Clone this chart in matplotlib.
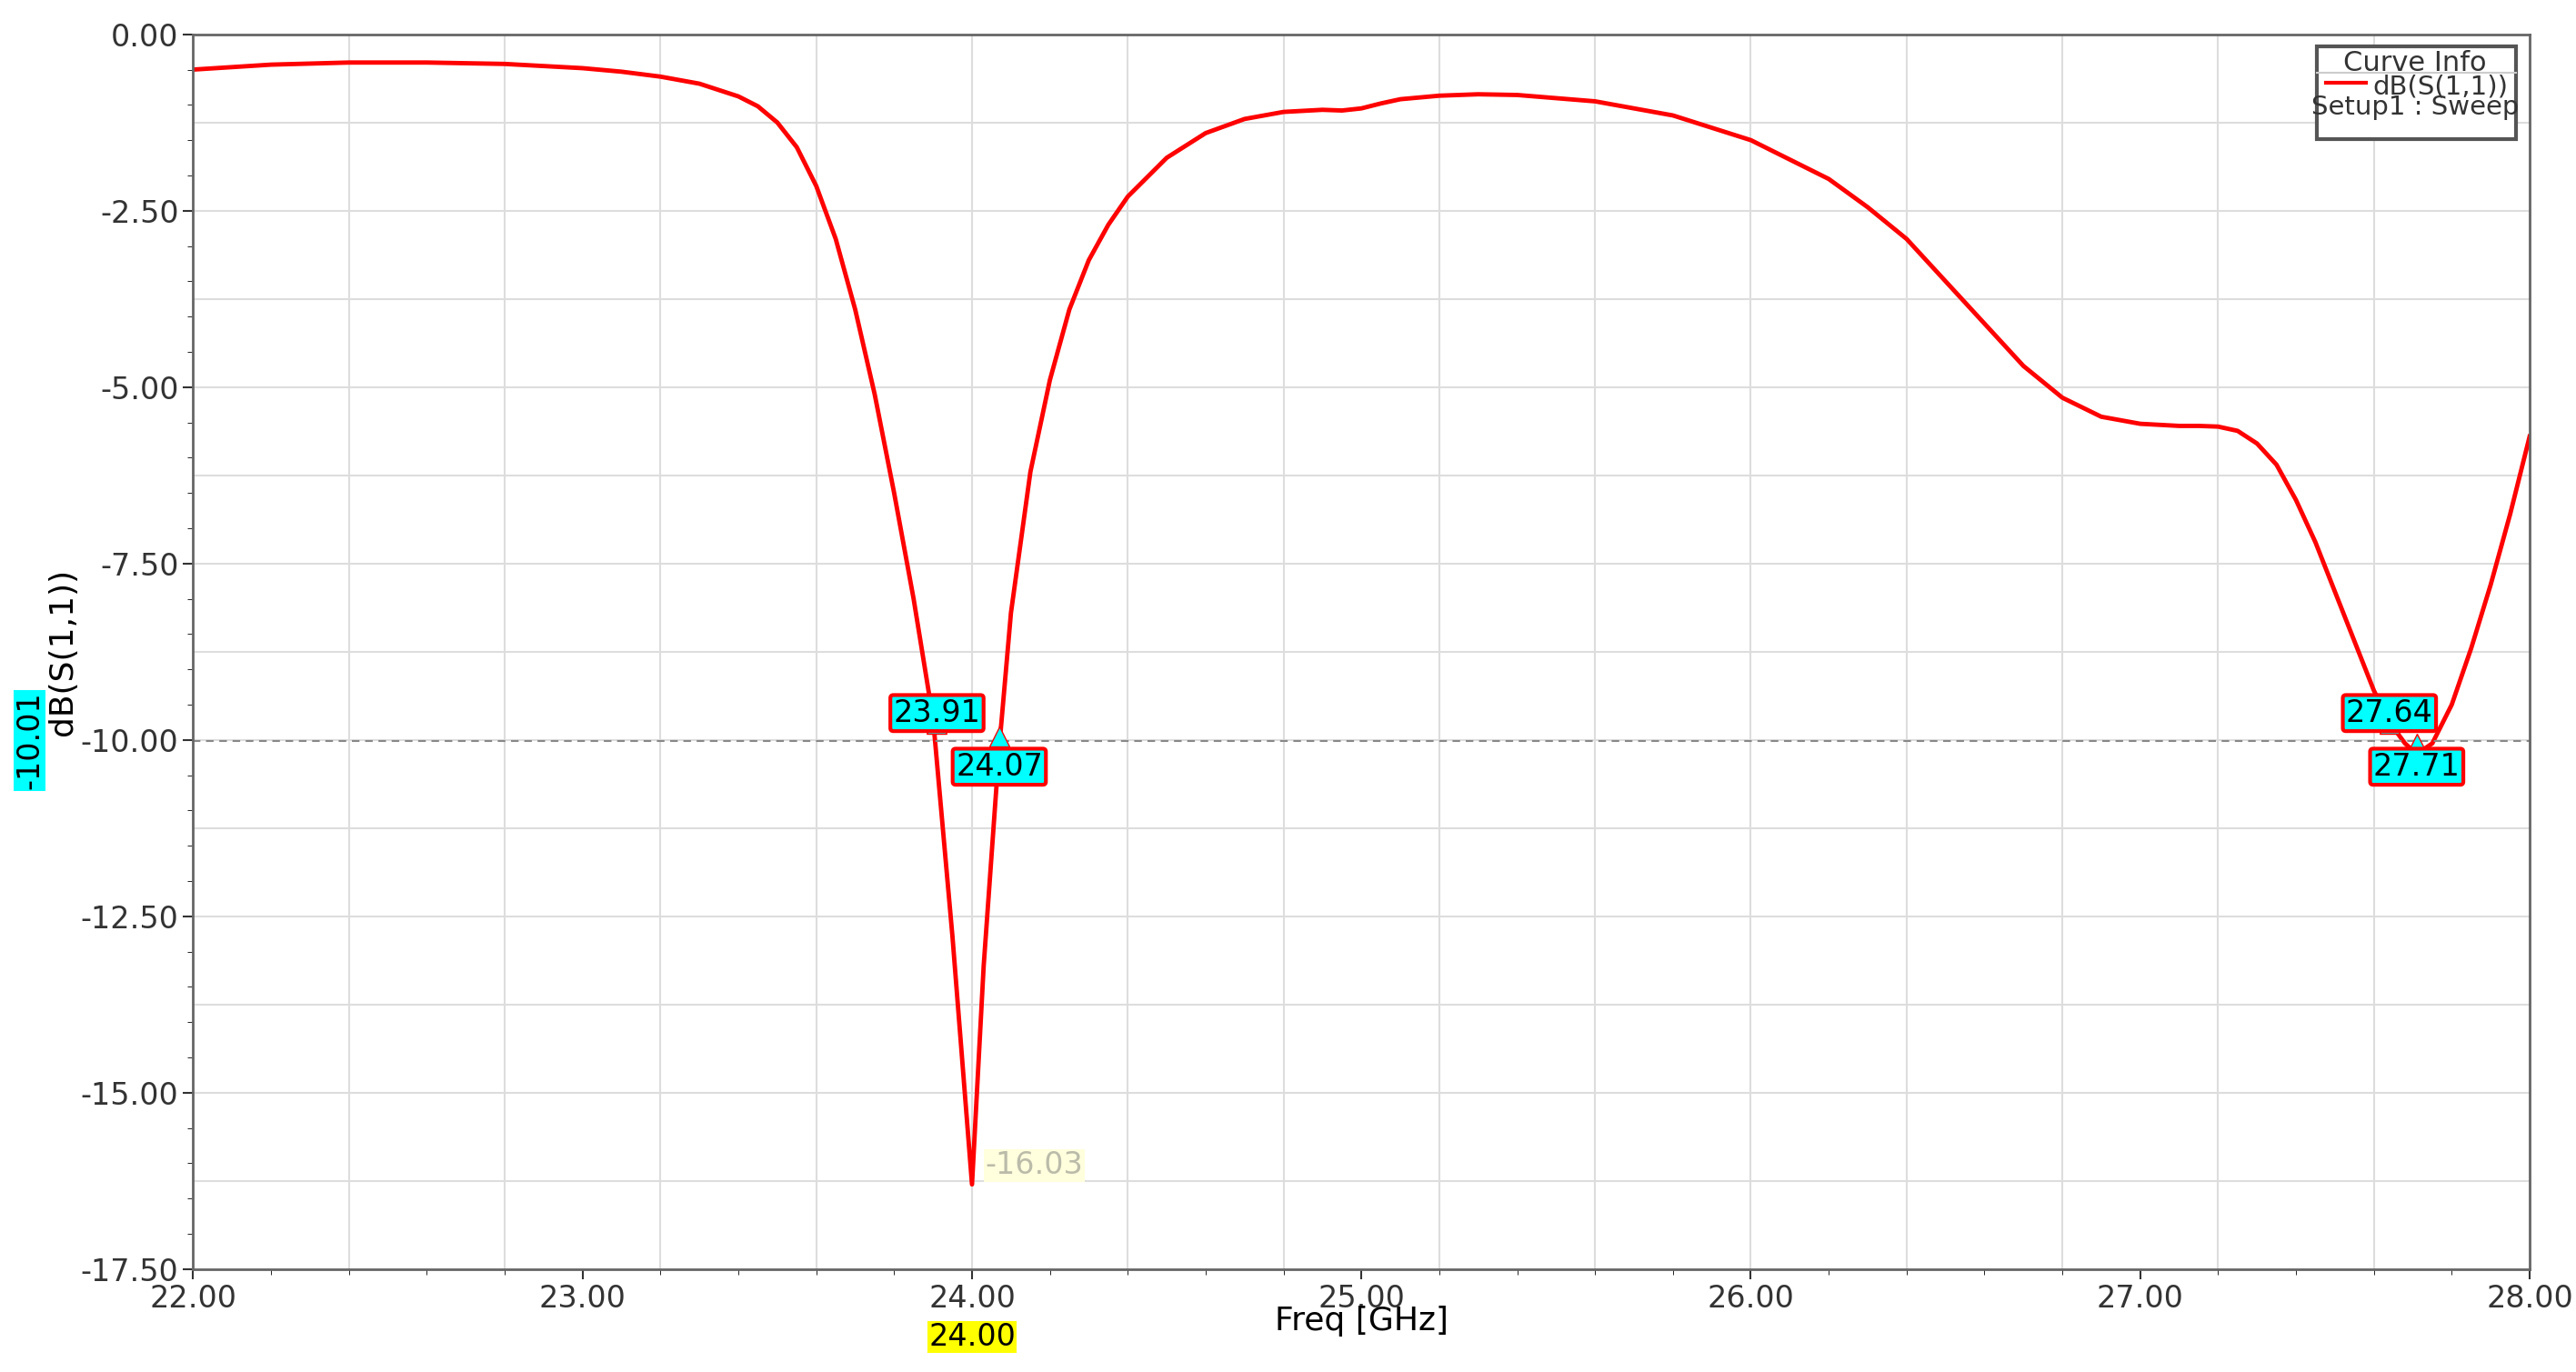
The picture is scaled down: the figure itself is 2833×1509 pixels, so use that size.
import matplotlib.pyplot as plt
from matplotlib.patches import Rectangle
from matplotlib.ticker import MultipleLocator

freq = [22.0, 22.2, 22.4, 22.6, 22.8, 23.0, 23.1, 23.2, 23.3, 23.4, 23.45, 23.5, 23.55, 23.6,
        23.65, 23.7, 23.75, 23.8, 23.85, 23.9, 23.95, 24.0, 24.03, 24.07, 24.1, 24.15, 24.2,
        24.25, 24.3, 24.35, 24.4, 24.5, 24.6, 24.7, 24.8, 24.9, 24.95, 25.0, 25.05, 25.1, 25.2,
        25.3, 25.4, 25.6, 25.8, 26.0, 26.2, 26.3, 26.4, 26.5, 26.6, 26.7, 26.8, 26.9, 27.0,
        27.1, 27.15, 27.2, 27.25, 27.3, 27.35, 27.4, 27.45, 27.5, 27.55, 27.6, 27.64, 27.68,
        27.71, 27.75, 27.8, 27.85, 27.9, 27.95, 28.0]
s11 = [-0.5, -0.43, -0.4, -0.4, -0.42, -0.48, -0.53, -0.6, -0.7, -0.88, -1.02, -1.25, -1.6,
       -2.15, -2.9, -3.9, -5.1, -6.5, -8.0, -9.7, -12.8, -16.3, -13.2, -10.1, -8.2, -6.2,
       -4.9, -3.9, -3.2, -2.7, -2.3, -1.75, -1.4, -1.2, -1.1, -1.07, -1.08, -1.05, -0.98,
       -0.92, -0.87, -0.85, -0.86, -0.95, -1.15, -1.5, -2.05, -2.45, -2.9, -3.5, -4.1, -4.7,
       -5.15, -5.42, -5.52, -5.55, -5.55, -5.56, -5.62, -5.8, -6.1, -6.6, -7.2, -7.9, -8.6,
       -9.3, -9.75, -10.05, -10.2, -10.05, -9.5, -8.7, -7.8, -6.8, -5.7]

markers = [(23.91, -9.62, -9.62), (24.07, -10.1, -10.38), (27.64, -9.62, -9.62), (27.71, -10.2, -10.38)]
hline = -10.01
min_label = '-16.03'

fig = plt.figure(figsize=(28.33, 15.09), dpi=100)
ax = fig.add_axes([0.075, 0.075, 0.907, 0.9])
ax.plot(freq, s11, color='red', lw=3.5)
ax.set_xlim(22, 28)
ax.set_ylim(-17.5, 0)
ax.xaxis.set_major_locator(MultipleLocator(1))
ax.xaxis.set_minor_locator(MultipleLocator(0.2))
ax.yaxis.set_major_locator(MultipleLocator(2.5))
ax.yaxis.set_minor_locator(MultipleLocator(0.5))
for x in [22 + 0.4 * i for i in range(1, 15)]:
    ax.axvline(x, color='#dddddd', lw=1.5, zorder=0)
for y in [-1.25 * i for i in range(1, 14)]:
    ax.axhline(y, color='#dddddd', lw=1.5, zorder=0)
ax.tick_params(labelsize=24, length=8, width=1.5, colors='#333333')
ax.tick_params(which='minor', length=4)
ax.xaxis.set_major_formatter(lambda v, p: f'{v:.2f}')
ax.yaxis.set_major_formatter(lambda v, p: f'{v:.2f}')
for s in ax.spines.values():
    s.set_color('#666666')
    s.set_linewidth(2)
ax.set_xlabel('Freq [GHz]', fontsize=26, labelpad=-6)
ax.set_ylabel('dB(S(1,1))', fontsize=26, labelpad=2)
ax.axhline(hline, color='#888888', ls=(0, (4, 3)), lw=1.5)
ax.text(21.58, hline, f'{hline:.2f}', rotation=90, fontsize=24, va='center', ha='center',
        bbox=dict(fc='cyan', ec='none', pad=1))
ax.text(24.0, -18.25, '24.00', fontsize=24, ha='center', va='top',
        bbox=dict(fc='yellow', ec='none', pad=1))
ax.text(24.16, -16.03, min_label, fontsize=24, ha='center', va='center', color='#bbbbaa',
        bbox=dict(fc='#ffffdd', ec='none', pad=1))
for fx, fy, ly in markers:
    ax.plot(fx, fy + (0.15 if ly < fy else -0.15), marker='v' if ly > fy else '^',
            color='cyan', ms=16, mec='red', zorder=5)
    ax.text(fx, ly, f'{fx:.2f}', fontsize=24, ha='center', va='center', zorder=6,
            bbox=dict(fc='cyan', ec='red', lw=3, pad=1.5, boxstyle='round,pad=0.1'))

# curve info box
ax.add_patch(Rectangle((0.909, 0.915), 0.085, 0.075, transform=ax.transAxes, fc='white',
                       ec='#555555', lw=3, zorder=7))
ax.plot([0.909, 0.994], [0.969, 0.969], transform=ax.transAxes, color='#cccccc', lw=1.5, zorder=8)
ax.text(0.951, 0.987, 'Curve Info', transform=ax.transAxes, ha='center', va='top', fontsize=22,
        color='#333333', zorder=8)
ax.plot([0.913, 0.93], [0.961, 0.961], transform=ax.transAxes, color='red', lw=3, zorder=8)
ax.text(0.962, 0.968, 'dB(S(1,1))', transform=ax.transAxes, ha='center', va='top',
        fontsize=21, color='#333333', zorder=8)
ax.text(0.951, 0.951, 'Setup1 : Sweep', transform=ax.transAxes, ha='center', va='top',
        fontsize=21, color='#333333', zorder=8)
fig.savefig('out.png')
